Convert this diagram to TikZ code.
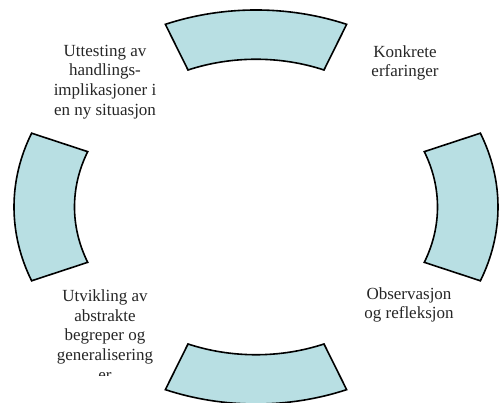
\documentclass[tikz,border=0pt]{standalone}
\usepackage{fontspec}
\setmainfont{Liberation Serif}
\definecolor{segfill}{RGB}{184,223,227}
\tikzset{
  seg/.style={draw=black, line width=1.6pt, fill=segfill, line join=miter},
  lbl/.style={align=center, inner sep=0pt, font=\fontsize{17}{19.6}\selectfont, text=black!85}
}
\newcommand{\ringseg}[1]{%
  \path[seg] (#1-22:242pt and 197pt)
    arc[start angle=#1-22, end angle=#1+22, x radius=242pt, y radius=197pt]
    -- (#1+22:181.5pt and 147.75pt)
    arc[start angle=#1+22, end angle=#1-22, x radius=181.5pt, y radius=147.75pt]
    -- cycle;}
\begin{document}
\begin{tikzpicture}[x=1pt,y=1pt]
\useasboundingbox (0,0) rectangle (499,403);
\clip (0,0) rectangle (499,403);
\begin{scope}[shift={(256,196)}]
  \ringseg{90}
  \ringseg{0}
  \ringseg{270}
  \ringseg{180}
\end{scope}
\node[lbl] (test) at (105,403-82) {Uttesting av\\handlings-\\implikasjoner i\\en ny situasjon};
\node[lbl] (konk) at (405,403-63) {Konkrete\\erfaringer};
\node[lbl] (obs) at (409,403-305) {Observasjon\\og refleksjon};
\begin{scope}
  \clip (0,403-376) rectangle (499,403);
  \node[lbl] (utv) at (105,403-335) {Utvikling av\\abstrakte\\begreper og\\generalisering\\er};
\end{scope}
\end{tikzpicture}
\end{document}
